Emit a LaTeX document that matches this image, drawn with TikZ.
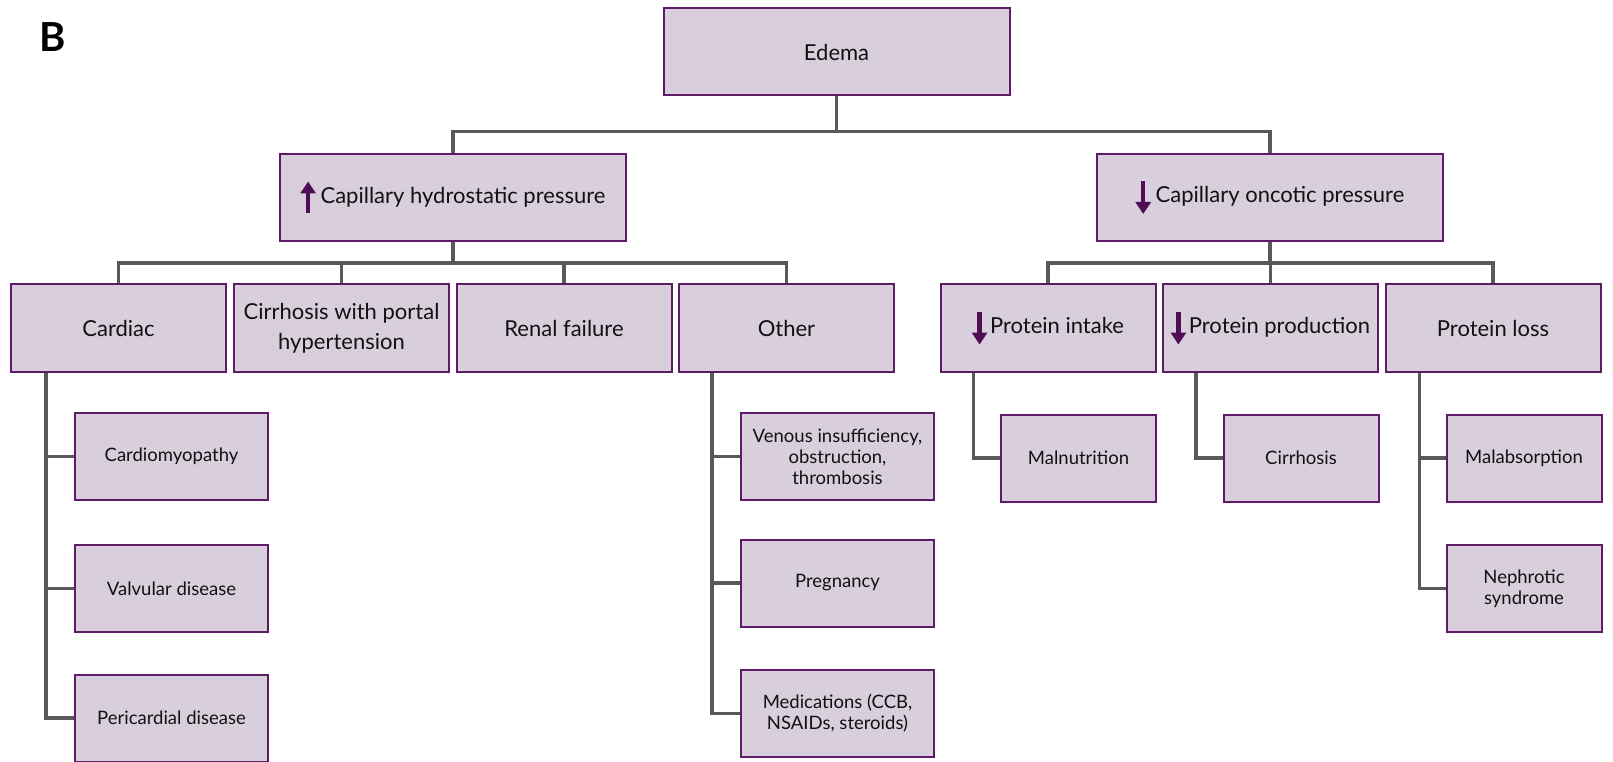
\documentclass[tikz,border=0pt]{standalone}
\usepackage{fontspec}
\setmainfont{Lato}
\usetikzlibrary{arrows.meta}

\definecolor{boxfill}{HTML}{D9CFDC}
\definecolor{boxline}{HTML}{5E1C68}
\definecolor{linkgray}{HTML}{595959}
\definecolor{arrowpurple}{HTML}{4E0D55}
\definecolor{textblack}{HTML}{111111}

% small up / down arrows in front of the labels
\newcommand{\uparr}{\tikz[baseline=0pt]\draw[arrowpurple, line width=4.5pt, -{Triangle[length=12pt,width=15pt]}] (0pt,-10pt) -- (0pt,22pt);}
\newcommand{\downarr}{\tikz[baseline=0pt]\draw[arrowpurple, line width=4.5pt, -{Triangle[length=12pt,width=15pt]}] (0pt,22pt) -- (0pt,-11pt);}

\begin{document}
\begin{tikzpicture}[
	x=1pt,
	y=-1pt,
	box/.style={
		rectangle,
		draw=boxline,
		line width=2pt,
		fill=boxfill,
		text=textblack,
		align=center,
		inner sep=0pt
	},
	cause/.style={
		box,
		minimum width=346pt,
		minimum height=87pt,
		font=\fontsize{22}{30}\selectfont
	},
	group/.style={
		box,
		minimum width=215pt,
		minimum height=88pt,
		font=\fontsize{22}{30}\selectfont
	},
	detail/.style={
		box,
		minimum width=193pt,
		minimum height=87pt,
		font=\fontsize{18.5}{21}\selectfont
	},
	link/.style={
		draw=linkgray,
		line width=3.5pt
	},
]

\useasboundingbox (0,0) rectangle (1613,762);

\node[font=\fontsize{40}{40}\selectfont\bfseries] (panel) at (53,37) {B};

\node[cause] (edema) at (836.5,52) {Edema};
\node[cause] (hydro) at (453,197.5) {\uparr\hspace{5pt}Capillary hydrostatic pressure};
\node[cause] (onco) at (1270,197.5) {\downarr\hspace{5pt}Capillary oncotic pressure};

\node[group] (cardiac) at (118.5,328) {Cardiac};
\node[group] (cirrport) at (341.5,328) {Cirrhosis with portal\\hypertension};
\node[group] (renal) at (564,328) {Renal failure};
\node[group] (other) at (786.5,328) {Other};

\node[group] (intake) at (1048,328) {\downarr\hspace{3pt}Protein intake};
\node[group] (production) at (1270.5,328) {\downarr\hspace{3pt}Protein production};
\node[group] (loss) at (1493,328) {Protein loss};

\node[detail] (cardiomyo) at (171.5,456.5) {Cardiomyopathy};
\node[detail] (valvular) at (171.5,588.5) {Valvular disease};
\node[detail] (pericardial) at (171.5,718) {Pericardial disease};

\node[detail] (venous) at (837.5,456.5) {Venous insufficiency,\\obstruction,\\thrombosis};
\node[detail] (pregnancy) at (837.5,583) {Pregnancy};
\node[detail] (medication) at (837.5,713.5) {Medications (CCB,\\NSAIDs, steroids)};

\node[detail, minimum width=155pt] (malnutrition) at (1078.5,458) {Malnutrition};
\node[detail, minimum width=155pt] (cirrhosis) at (1301,458) {Cirrhosis};
\node[detail, minimum width=155pt] (malabsorption) at (1524,458) {Malabsorption};
\node[detail, minimum width=155pt] (nephrotic) at (1524,588.5) {Nephrotic\\syndrome};

\draw[link] (edema.south) -- ++(0,35) -| (hydro.north);
\draw[link] (edema.south) -- ++(0,35) -| (onco.north);

\draw[link] (hydro.south) -- ++(0,21) -| (cardiac.north);
\draw[link] (hydro.south) -- ++(0,21) -| (cirrport.north);
\draw[link] (hydro.south) -- ++(0,21) -| (renal.north);
\draw[link] (hydro.south) -- ++(0,21) -| (other.north);

\draw[link] (onco.south) -- ++(0,21) -| (intake.north);
\draw[link] (onco.south) -- ++(0,21) -| (production.north);
\draw[link] (onco.south) -- ++(0,21) -| (loss.north);

\draw[link] ([xshift=36pt]cardiac.south west) |- (cardiomyo.west);
\draw[link] ([xshift=36pt]cardiac.south west) |- (valvular.west);
\draw[link] ([xshift=36pt]cardiac.south west) |- (pericardial.west);

\draw[link] ([xshift=34pt]other.south west) |- (venous.west);
\draw[link] ([xshift=34pt]other.south west) |- (pregnancy.west);
\draw[link] ([xshift=34pt]other.south west) |- (medication.west);

\draw[link] ([xshift=34pt]intake.south west) |- (malnutrition.west);
\draw[link] ([xshift=34pt]production.south west) |- (cirrhosis.west);
\draw[link] ([xshift=35pt]loss.south west) |- (malabsorption.west);
\draw[link] ([xshift=35pt]loss.south west) |- (nephrotic.west);

\end{tikzpicture}
\end{document}
